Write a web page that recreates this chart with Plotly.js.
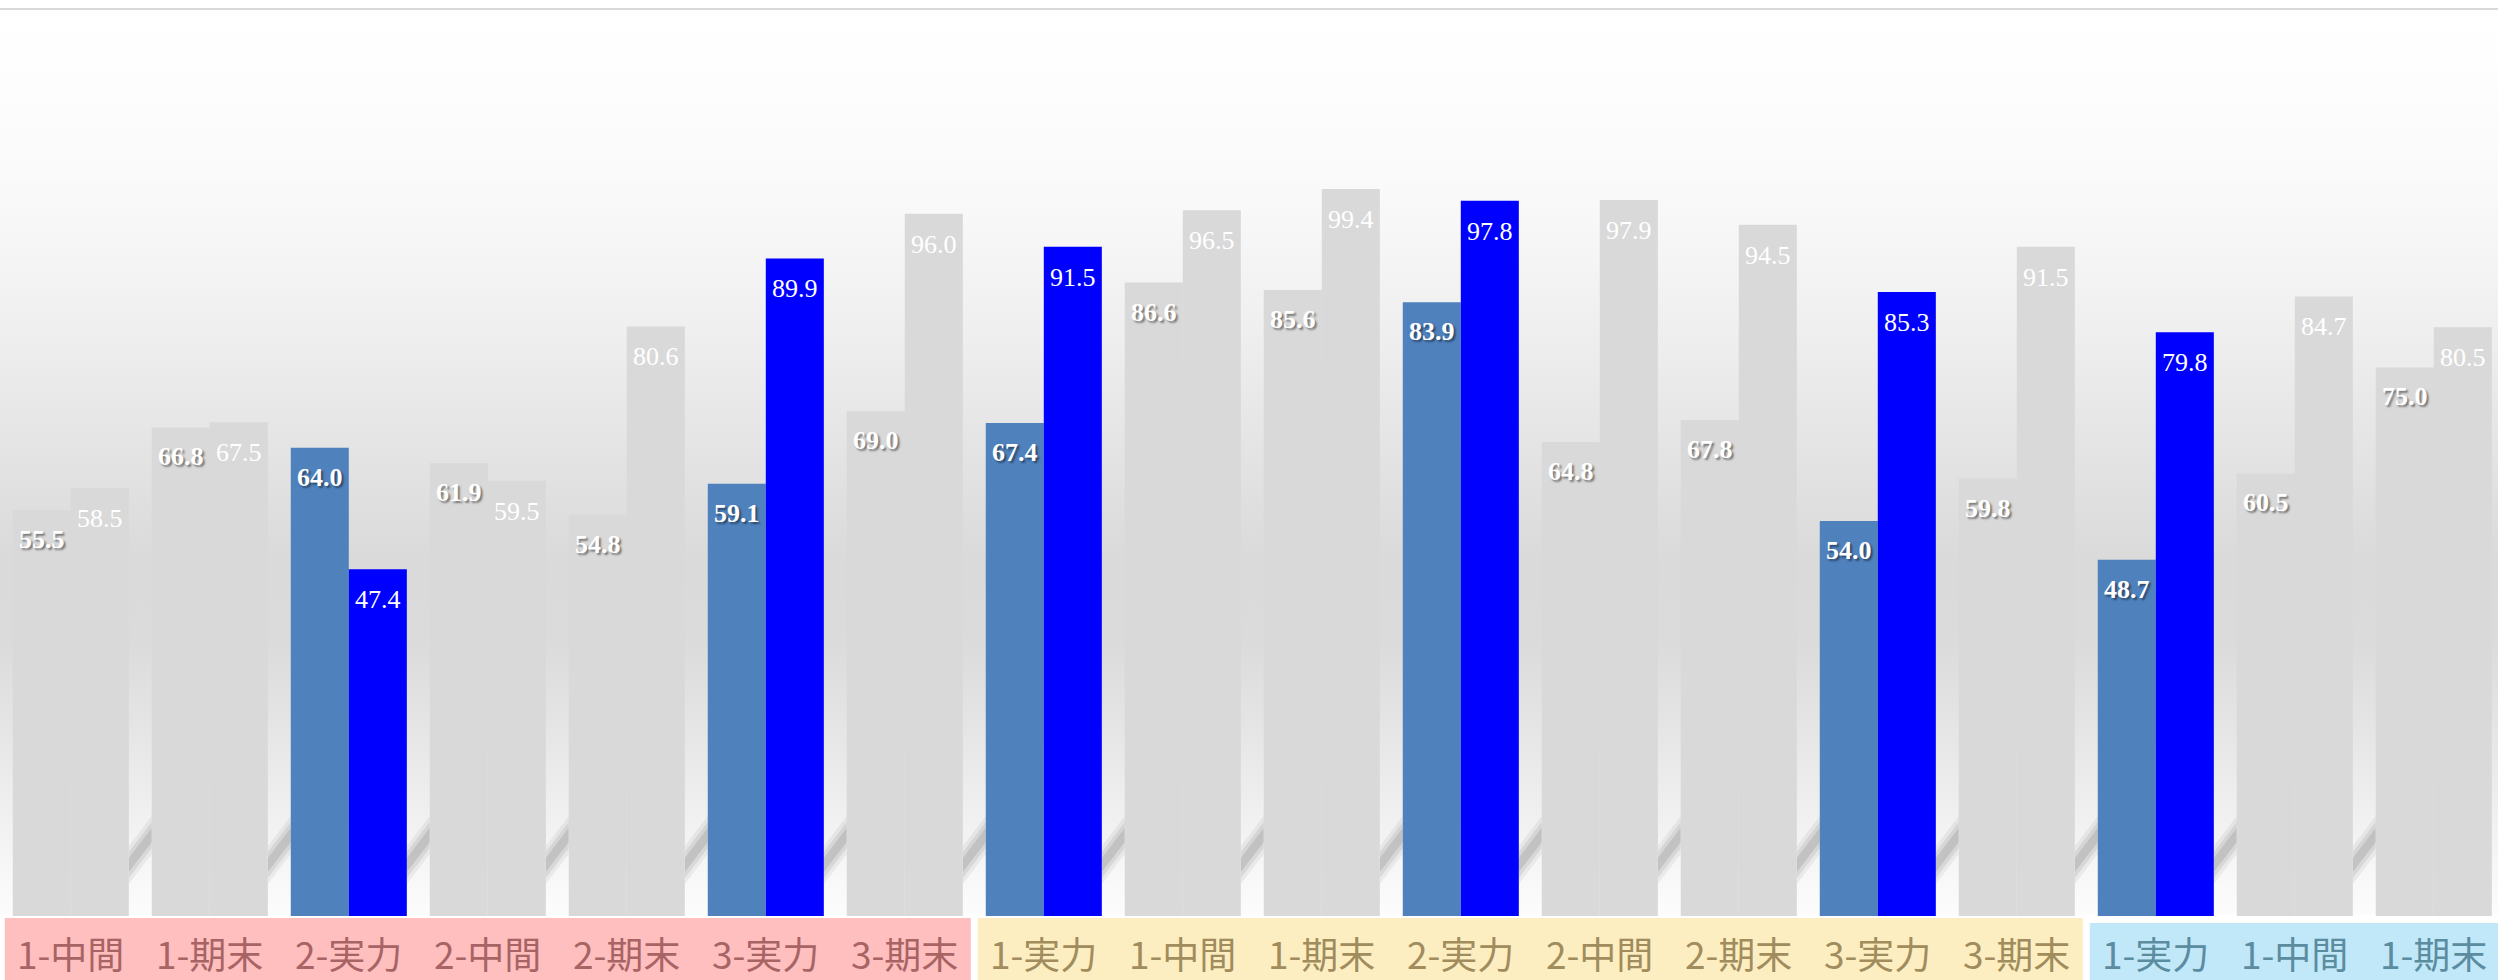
<!DOCTYPE html>
<html>
<head>
<meta charset="utf-8">
<script src="https://cdn.plot.ly/plotly-3.0.1.min.js"></script>
<style>
  html, body { margin: 0; padding: 0; background: #ffffff; }
  #chart {
    width: 2498px; height: 980px;
    background: linear-gradient(to bottom,
      #ffffff 0px, #fefefe 60px, #f9f9f9 200px, #efefef 330px, #e4e4e4 450px,
      #dadada 560px, #dbdbdb 640px, #e4e4e4 720px, #eeeeee 800px,
      #f7f7f7 870px, #fcfcfc 914px, #ffffff 916px, #ffffff 980px);
  }
</style>
</head>
<body>
<div id="chart"></div>
<script>
// ---- data ----
const categories = ['1-中間','1-期末','2-実力','2-中間','2-期末','3-実力','3-期末',
                    '1-実力','1-中間','1-期末','2-実力','2-中間','2-期末','3-実力','3-期末',
                    '1-実力','1-中間','1-期末'];
const seriesLeft  = [55.5, 66.8, 64.0, 61.9, 54.8, 59.1, 69.0,
                     67.4, 86.6, 85.6, 83.9, 64.8, 67.8, 54.0, 59.8,
                     48.7, 60.5, 75.0];
const seriesRight = [58.5, 67.5, 47.4, 59.5, 80.6, 89.9, 96.0,
                     91.5, 96.5, 99.4, 97.8, 97.9, 94.5, 85.3, 91.5,
                     79.8, 84.7, 80.5];
const blockSizes = [7, 8, 3];
const highlightKey = '実力';

// ---- styles ----
const GRAY = '#D9D9D9', STEEL = '#4F81BD', BLUE = '#0000FF';
const blockFill = ['#FFBFBF', '#FDEEC2', '#C0E8F8'];
const blockText = ['#A86464', '#A08C5C', '#5C8CA0'];
const blockTopPx = [918, 918, 923];
const H = 980, T = 9, B = 64, PLOT_BOTTOM = H - B, PLOT_H = H - T - B;
const paperY = px => (PLOT_BOTTOM - px) / PLOT_H;
const bargap = 0.165;
const barW = (1 - bargap) / 2;

const xs = categories.map((_, i) => i);
const isHi = categories.map(c => c.includes(highlightKey));

const traces = [
  { type: 'bar', name: '系列1', x: xs, y: seriesLeft,
    marker: { color: isHi.map(h => h ? STEEL : GRAY) }, hoverinfo: 'skip' },
  { type: 'bar', name: '系列2', x: xs, y: seriesRight,
    marker: { color: isHi.map(h => h ? BLUE : GRAY) }, hoverinfo: 'skip' }
];

const annotations = [];
const valFont = 'Liberation Serif, Times New Roman, serif';
xs.forEach(i => {
  annotations.push({ xref: 'x', yref: 'y', x: i - barW / 2, y: seriesLeft[i],
    text: seriesLeft[i].toFixed(1), showarrow: false, yanchor: 'top', yshift: -13,
    font: { family: valFont, size: 26, color: '#ffffff', weight: 'bold',
            shadow: '2px 2px 2px rgba(0,0,0,0.45)' } });
  annotations.push({ xref: 'x', yref: 'y', x: i + barW / 2, y: seriesRight[i],
    text: seriesRight[i].toFixed(1), showarrow: false, yanchor: 'top', yshift: -14,
    font: { family: valFont, size: 26, color: '#ffffff', shadow: 'none' } });
});

const shapes = [];
// top border line
shapes.push({ type: 'line', xref: 'paper', yref: 'paper', x0: 0, x1: 1, y0: 1, y1: 1,
  line: { color: '#d9d9d9', width: 2 }, layer: 'above' });

// label bands
let start = 0;
blockSizes.forEach((n, b) => {
  const inset = 0.025;
  shapes.push({ type: 'rect', xref: 'x', yref: 'paper',
    x0: start - 0.5 + inset, x1: start + n - 0.5 - inset,
    y0: paperY(H), y1: paperY(blockTopPx[b]),
    fillcolor: blockFill[b], line: { width: 0 }, layer: 'above' });
  for (let k = start; k < start + n; k++) {
    annotations.push({ xref: 'x', yref: 'paper', x: k, y: paperY(953),
      text: categories[k], showarrow: false, yanchor: 'middle',
      font: { family: 'Noto Sans CJK JP, sans-serif', size: 37, color: blockText[b] } });
  }
  start += n;
});

// soft perspective shadows in the gaps
const layers = [
  { dy: 7, c: 'rgba(140,140,140,0.12)' },
  { dy: 1, c: 'rgba(140,140,140,0.18)' },
  { dy: -5, c: 'rgba(130,130,130,0.24)' }
];
xs.slice(1).forEach(i => {
  const xr = i - barW, xl = i - 1 + barW;
  layers.forEach(L => {
    const r1 = paperY(823 - L.dy), r2 = paperY(847 + L.dy);
    const l1 = paperY(853 - L.dy), l2 = paperY(877 + L.dy);
    shapes.push({ type: 'path', xref: 'x', yref: 'paper', layer: 'below',
      path: `M ${xr},${r1} L ${xr},${r2} L ${xl},${l2} L ${xl},${l1} Z`,
      fillcolor: L.c, line: { width: 0 } });
  });
});

const pitch = 139.0, firstCenter = 70.8, W = 2498;
const x0 = -firstCenter / pitch;
const layout = {
  width: W, height: H,
  margin: { l: 0, r: 0, t: T, b: B, pad: 0 },
  paper_bgcolor: 'rgba(0,0,0,0)', plot_bgcolor: 'rgba(0,0,0,0)',
  barmode: 'group', bargap: bargap, bargroupgap: 0,
  showlegend: false,
  xaxis: { range: [x0, x0 + W / pitch], showgrid: false, zeroline: false,
           showticklabels: false, ticks: '', showline: false, fixedrange: true },
  yaxis: { range: [0, 124], showgrid: false, zeroline: false,
           showticklabels: false, ticks: '', showline: false, fixedrange: true },
  annotations: annotations,
  shapes: shapes
};

Plotly.newPlot('chart', traces, layout, { displayModeBar: false, staticPlot: true });
</script>
</body>
</html>
